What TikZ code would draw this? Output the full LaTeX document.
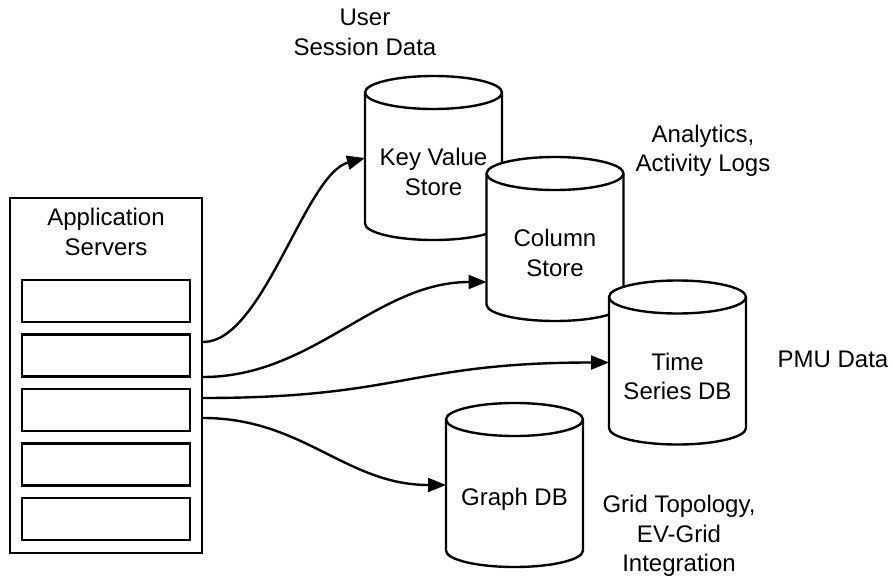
\documentclass[tikz,border=0pt]{standalone}
\usepackage{fontspec}
\setmainfont{Liberation Sans}
\usetikzlibrary{arrows.meta,calc}

% half-axes of the cylinder ends
\newcommand\dbrx{68.5pt}
\newcommand\dbry{16.5pt}

\tikzset{
  ink/.style={line width=2.4pt, draw=black},
  serverbox/.style={ink, minimum width=192pt, minimum height=355pt, inner sep=0pt},
  slot/.style={ink, minimum width=168pt, minimum height=42pt, inner sep=0pt},
  cylbox/.style={minimum width=137pt, minimum height=164pt, inner sep=0pt, outer sep=0pt},
  cylline/.style={ink, fill=white, line join=round},
  txt/.style={font=\fontsize{24}{29.5}\selectfont, align=center, inner sep=0pt, text=black},
  conn/.style={ink, -{Triangle[length=18pt,width=14pt]}},
}

% database cylinder: name, centre x, centre y, label
\newcommand\dbcyl[4]{%
  \node[cylbox] (#1) at (#2,#3) {};
  \filldraw[cylline]
    ([yshift=-\dbry]#1.north west) -- ([yshift=\dbry]#1.south west)
    arc[start angle=180, end angle=360, x radius=\dbrx, y radius=\dbry]
    -- ([yshift=-\dbry]#1.north east)
    arc[start angle=0, end angle=180, x radius=\dbrx, y radius=\dbry] -- cycle;
  \draw[ink] ([yshift=-\dbry]#1.north west)
    arc[start angle=180, end angle=360, x radius=\dbrx, y radius=\dbry];
  \node[txt] (#1-label) at ([yshift=-14pt]#1.center) {#4};
}

\begin{document}
\begin{tikzpicture}[x=1pt, y=1pt]
  \useasboundingbox (0,0) rectangle (893,-580);

  % application server rack
  \node[serverbox] (app) at (106,-375.5) {};
  \node[txt] (app-label) at (106,-232) {Application\\Servers};
  \node[slot] (s1) at (106,-301) {};
  \node[slot] (s2) at (106,-355.5) {};
  \node[slot] (s3) at (106,-410) {};
  \node[slot] (s4) at (106,-464.5) {};
  \node[slot] (s5) at (106,-519) {};

  % data stores, back to front
  \dbcyl{kv}{433.5}{-158}{Key Value\\Store}
  \dbcyl{col}{555}{-239}{Column\\Store}
  \dbcyl{ts}{677.5}{-362.5}{Time\\Series DB}
  \dbcyl{gdb}{514.5}{-485}{Graph DB}

  % what each store holds
  \node[txt] (kv-use) at (365,-32.5) {User\\Session Data};
  \node[txt] (col-use) at (703,-151) {Analytics,\\Activity Logs};
  \node[txt] (ts-use) at (833,-359) {PMU Data};
  \node[txt] (gdb-use) at (679,-536) {Grid Topology,\\EV-Grid\\Integration};

  % connector ends
  \coordinate (o1) at ($(app.east)+(0,33.5)$);
  \coordinate (o2) at ($(app.east)+(0,-1.5)$);
  \coordinate (o3) at ($(app.east)+(0,-22.5)$);
  \coordinate (o4) at ($(app.east)+(0,-42.5)$);
  \coordinate (colin) at ($(col.west)+(0,-43)$);

  \draw[conn] (o1) .. controls +(60,0) and +(-60,-16) .. (kv.west);
  \draw[conn] (o2) .. controls +(110,0) and +(-110,0) .. (colin);
  \draw[conn] (o3) .. controls +(200,0) and +(-200,0) .. (ts.west);
  \draw[conn] (o4) .. controls +(100,0) and +(-100,0) .. (gdb.west);
\end{tikzpicture}
\end{document}
